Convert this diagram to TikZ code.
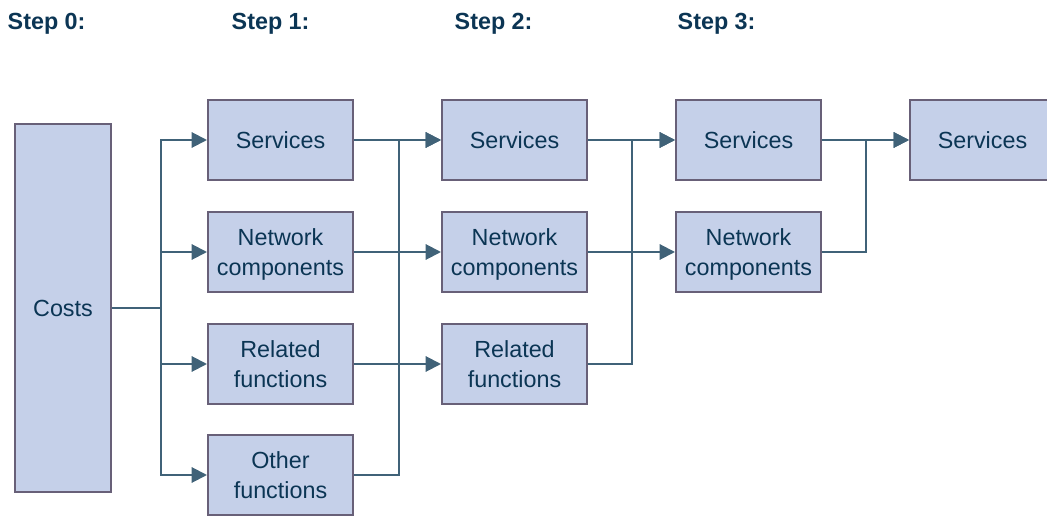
\documentclass[tikz,border=0pt]{standalone}
\usepackage{fontspec}
\setmainfont{Liberation Sans}
\usepackage{xcolor}
\usetikzlibrary{arrows.meta}
\definecolor{boxfill}{RGB}{197,208,233}
\definecolor{boxline}{RGB}{104,96,120}
\definecolor{wire}{RGB}{64,98,120}
\definecolor{ink}{RGB}{11,53,84}

\begin{document}
\begin{tikzpicture}[x=0.75pt,y=-0.75pt,
  font=\fontsize{17.5}{22.5}\selectfont, text=ink,
  stage/.style={draw=boxline,fill=boxfill,line width=1.5pt,align=center,
    minimum width=108.75pt,minimum height=60pt,inner sep=0pt,
    text depth=-3pt},
  head/.style={anchor=west,font=\fontsize{17.5}{21}\selectfont\bfseries},
  wired/.style={draw=wire,line width=1.5pt},
  arr/.style={wired,-{Triangle[length=11.5pt,width=11.5pt]}}]
  \useasboundingbox (0,0) rectangle (1047,516);
  % headings
  \node[head] (h0) at (3,24) {Step 0:};
  \node[head] (h1) at (227,24) {Step 1:};
  \node[head] (h2) at (450,24) {Step 2:};
  \node[head] (h3) at (673,24) {Step 3:};
  % boxes
  \node[stage,minimum width=72pt,minimum height=276pt] (costs) at (63,308) {Costs};
  \node[stage] (s1a) at (280.5,140) {Services};
  \node[stage] (s1b) at (280.5,252) {Network\\components};
  \node[stage] (s1c) at (280.5,364) {Related\\functions};
  \node[stage] (s1d) at (280.5,475) {Other\\functions};
  \node[stage] (s2a) at (514.5,140) {Services};
  \node[stage] (s2b) at (514.5,252) {Network\\components};
  \node[stage] (s2c) at (514.5,364) {Related\\functions};
  \node[stage] (s3a) at (748.5,140) {Services};
  \node[stage] (s3b) at (748.5,252) {Network\\components};
  \node[stage] (s4) at (982.5,140) {Services};
  % step 0 -> step 1
  \draw[arr] (costs.east) -- ++(49,0) |- (s1a.west);
  \draw[arr] (costs.east) -- ++(49,0) |- (s1b.west);
  \draw[arr] (costs.east) -- ++(49,0) |- (s1c.west);
  \draw[arr] (costs.east) -- ++(49,0) |- (s1d.west);
  % step 1 -> step 2
  \draw[arr] (s1a.east) -- (s2a.west);
  \draw[arr] (s1b.east) -- (s2b.west);
  \draw[arr] (s1c.east) -- (s2c.west);
  \draw[arr] (s1d.east) -- ++(45,0) |- (s2a.west);
  % step 2 -> step 3
  \draw[arr] (s2a.east) -- (s3a.west);
  \draw[arr] (s2b.east) -- (s3b.west);
  \draw[arr] (s2c.east) -- ++(44,0) |- (s3a.west);
  % step 3 -> result
  \draw[arr] (s3a.east) -- (s4.west);
  \draw[arr] (s3b.east) -- ++(44,0) |- (s4.west);
\end{tikzpicture}
\end{document}
